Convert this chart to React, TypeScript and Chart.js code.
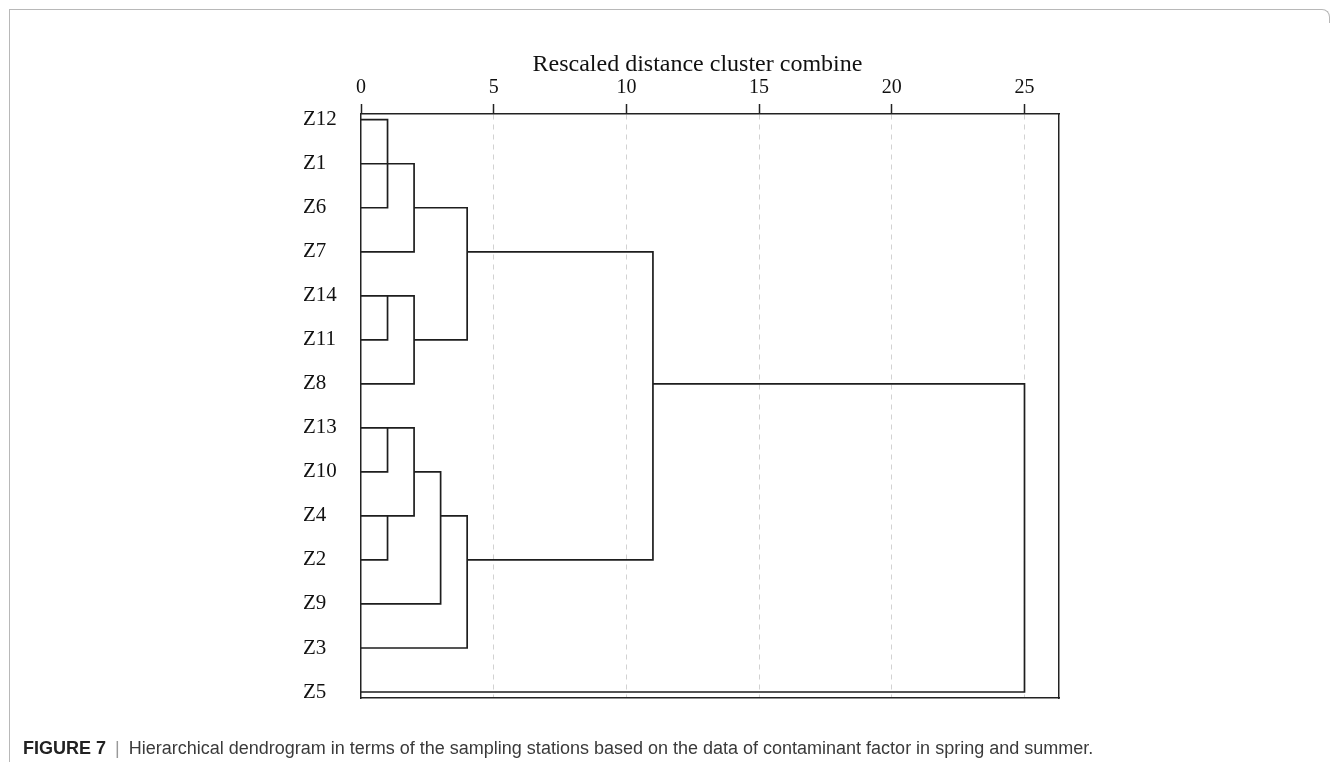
import React, { useEffect, useRef } from 'react';
import { Chart, registerables } from 'chart.js';

Chart.register(...registerables);

// ---- data ----
const ROWS = ['Z12', 'Z1', 'Z6', 'Z7', 'Z14', 'Z11', 'Z8', 'Z13', 'Z10', 'Z4', 'Z2', 'Z9', 'Z3', 'Z5'];
const X_TICKS = [0, 5, 10, 15, 20, 25];
const X_MAX = 26.3;
const AXIS_TITLE = 'Rescaled distance cluster combine';
// horizontal line of each leaf, from 0 to this distance
const LEAF_END = [1, 2, 1, 2, 2, 1, 2, 2, 1, 2, 1, 3, 4, 25];
// horizontal lines of merged clusters (row index, from distance, to distance)
const CLUSTER_ROW = [2, 3, 5, 8, 9, 10, 6];
const CLUSTER_FROM = [2, 4, 2, 2, 3, 4, 11];
const CLUSTER_TO = [4, 11, 4, 3, 4, 11, 25];
// vertical joins (distance, top row, bottom row)
const JOIN_X = [1, 2, 4, 1, 2, 1, 1, 2, 3, 4, 11, 25];
const JOIN_TOP = [0, 1, 2, 4, 4, 7, 9, 7, 8, 9, 3, 6];
const JOIN_BOTTOM = [2, 3, 5, 5, 6, 8, 10, 9, 11, 12, 10, 13];

const CAPTION_LABEL = 'FIGURE 7';
const CAPTION_TEXT =
  'Hierarchical dendrogram in terms of the sampling stations based on the data of contaminant factor in spring and summer.';

type P = { x: number; y: number | null };

function buildPoints(): P[] {
  const pts: P[] = [];
  const gap = () => pts.push({ x: 0, y: null });
  LEAF_END.forEach((end, i) => {
    pts.push({ x: 0, y: i }, { x: end, y: i });
    gap();
  });
  CLUSTER_ROW.forEach((r, i) => {
    pts.push({ x: CLUSTER_FROM[i], y: r }, { x: CLUSTER_TO[i], y: r });
    gap();
  });
  JOIN_X.forEach((x, i) => {
    pts.push({ x, y: JOIN_TOP[i] }, { x, y: JOIN_BOTTOM[i] });
    gap();
  });
  return pts;
}

const titlePlugin = {
  id: 'axisTitleText',
  afterDraw(chart: any) {
    const { ctx, chartArea } = chart;
    ctx.save();
    ctx.font = '24px "Liberation Serif"';
    ctx.fillStyle = '#111';
    ctx.textAlign = 'center';
    ctx.textBaseline = 'middle';
    const cx = chartArea.left + (chartArea.right - chartArea.left) * 0.482;
    ctx.fillText(AXIS_TITLE, cx, 65);
    ctx.restore();
  },
};

export default function App() {
  const ref = useRef<HTMLCanvasElement>(null);

  useEffect(() => {
    if (!ref.current) return;
    const frame = { display: true, color: '#222', width: 1.5 };
    const chart = new Chart(ref.current, {
      type: 'line',
      data: {
        datasets: [
          {
            data: buildPoints() as any,
            borderColor: '#1e1e1e',
            borderWidth: 1.7,
            pointRadius: 0,
            spanGaps: false,
            tension: 0,
            borderCapStyle: 'square',
            xAxisID: 'x',
            yAxisID: 'y',
          },
        ],
      },
      options: {
        animation: false,
        responsive: false,
        devicePixelRatio: 1,
        parsing: true,
        layout: { padding: { left: 303, right: 282, top: 0, bottom: 64 } },
        plugins: { legend: { display: false }, tooltip: { enabled: false }, title: { display: false } },
        scales: {
          x: {
            type: 'linear',
            position: 'top',
            min: 0,
            max: X_MAX,
            afterBuildTicks: (s: any) => {
              s.ticks = X_TICKS.map((v) => ({ value: v }));
            },
            afterFit: (s: any) => {
              s.height = 114;
            },
            ticks: {
              autoSkip: false,
              maxRotation: 0,
              padding: 4,
              color: '#111',
              font: { family: '"Liberation Serif"', size: 20 },
            },
            grid: {
              color: (c: any) => (c.tick && c.tick.value === 0 ? 'rgba(0,0,0,0)' : '#d2d2d2'),
              lineWidth: 1,
              tickLength: 10,
              tickColor: '#222',
              tickWidth: 1.5,
              tickBorderDash: [],
            },
            border: { display: true, color: '#222', width: 1.5, dash: [5, 5] },
          },
          x2: {
            type: 'linear',
            axis: 'x',
            position: 'bottom',
            min: 0,
            max: X_MAX,
            ticks: { display: false },
            grid: { display: false },
            border: frame,
            afterFit: (s: any) => {
              s.height = 0;
            },
          },
          y: {
            type: 'linear',
            position: 'left',
            reverse: true,
            min: -0.13,
            max: 13.136,
            afterBuildTicks: (s: any) => {
              s.ticks = ROWS.map((_, i) => ({ value: i }));
            },
            afterFit: (s: any) => {
              s.width = 58;
            },
            ticks: {
              autoSkip: false,
              crossAlign: 'far',
              color: '#111',
              font: { family: '"Liberation Serif"', size: 21 },
              callback: (v: any) => ROWS[Math.round(Number(v))] ?? '',
            },
            grid: { display: false },
            border: frame,
          },
          y2: {
            type: 'linear',
            axis: 'y',
            position: 'right',
            min: -0.13,
            max: 13.136,
            ticks: { display: false },
            grid: { display: false },
            border: frame,
            afterFit: (s: any) => {
              s.width = 0;
            },
          },
        },
      } as any,
      plugins: [titlePlugin],
    });
    return () => chart.destroy();
  }, []);

  return (
    <div style={{ position: 'absolute', left: 0, top: 0, width: 1341, height: 762, overflow: 'hidden', background: '#fff' }}>
      <div
        style={{
          position: 'absolute',
          left: 9,
          top: 9,
          width: 1310,
          height: 753,
          borderTop: '1.5px solid #b8b8b8',
          borderLeft: '1.5px solid #b8b8b8',
          boxSizing: 'border-box',
        }}
      />
      <div
        style={{
          position: 'absolute',
          left: 1316,
          top: 9,
          width: 14,
          height: 14,
          borderTop: '1.5px solid #b8b8b8',
          borderRight: '1.5px solid #b8b8b8',
          borderTopRightRadius: 8,
          boxSizing: 'border-box',
        }}
      />
      <canvas ref={ref} width={1341} height={762} style={{ position: 'absolute', left: 0, top: 0, display: 'block' }} />
      <div
        style={{
          position: 'absolute',
          left: 23,
          top: 737,
          fontFamily: '"Liberation Sans", Arial, sans-serif',
          fontSize: 18,
          lineHeight: '22px',
          color: '#3a3a3a',
          whiteSpace: 'nowrap',
        }}
      >
        <span style={{ fontWeight: 'bold', color: '#222' }}>{CAPTION_LABEL}</span>
        <span style={{ color: '#999', margin: '0 4px' }}> | </span>
        <span>{CAPTION_TEXT}</span>
      </div>
    </div>
  );
}
